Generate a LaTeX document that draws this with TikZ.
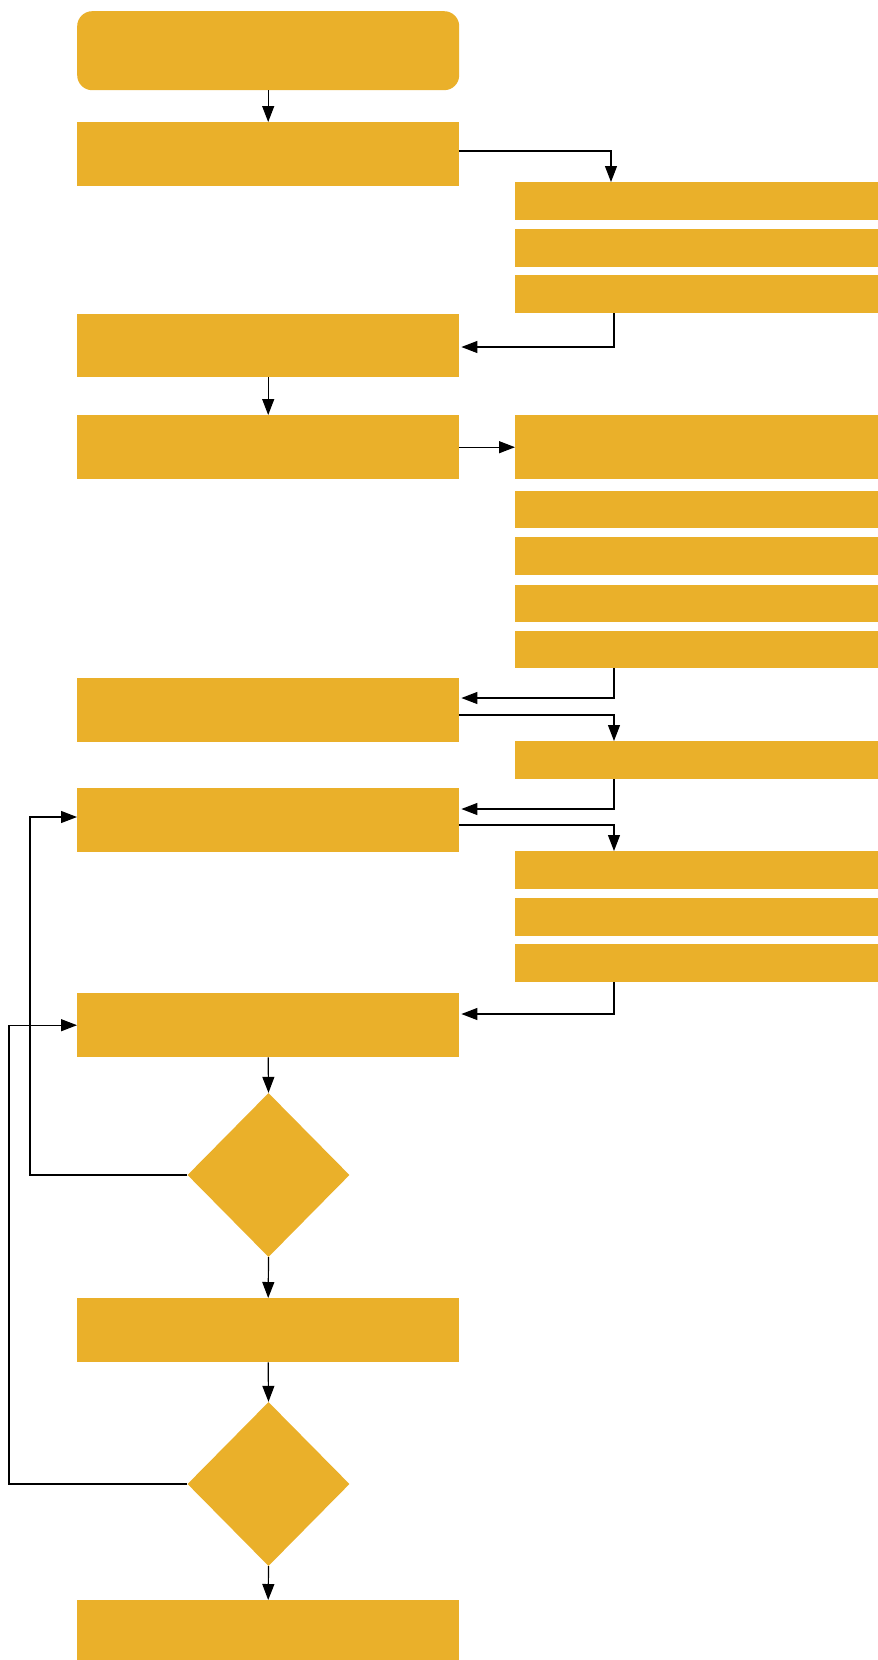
\documentclass[tikz,border=0pt]{standalone}
\usetikzlibrary{shapes.geometric,arrows.meta,calc}
\definecolor{gold}{RGB}{234,176,42}
\begin{document}
\begin{tikzpicture}[x=1pt,y=-1pt,
  box/.style={fill=gold, draw=none, inner sep=0pt, anchor=north west, minimum width=382pt, minimum height=64pt},
  rbox/.style={fill=gold, draw=none, inner sep=0pt, anchor=north west, minimum width=363pt, minimum height=38pt},
  dec/.style={diamond, fill=gold, draw=none, inner sep=0pt, minimum width=162pt, minimum height=164pt},
  conn/.style={draw=black, line width=1.2pt},
  arr/.style={conn, -{Triangle[length=16pt,width=12pt]}}]
\useasboundingbox (0,0) rectangle (878,1660);
% left column
\node[box, rounded corners=15pt, minimum height=79pt] (b1) at (77,11) {};
\node[box] (b2) at (77,122) {};
\node[box, minimum height=63pt] (b3) at (77,314) {};
\node[box] (b4) at (77,415) {};
\node[box] (b5) at (77,678) {};
\node[box] (b6) at (77,788) {};
\node[box] (b7) at (77,993) {};
\node[dec] (d1) at (268.5,1175) {};
\node[box] (b8) at (77,1298) {};
\node[dec] (d2) at (268.5,1484) {};
\node[box, minimum height=60pt] (b9) at (77,1600) {};
% right column
\node[rbox] (r1) at (515,182) {};
\node[rbox] (r2) at (515,229) {};
\node[rbox] (r3) at (515,275) {};
\node[rbox, minimum height=64pt] (rt) at (515,415) {};
\node[rbox, minimum height=37pt] (s1) at (515,491) {};
\node[rbox] (s2) at (515,537) {};
\node[rbox, minimum height=37pt] (s3) at (515,585) {};
\node[rbox, minimum height=37pt] (s4) at (515,631) {};
\node[rbox] (u1) at (515,741) {};
\node[rbox] (v1) at (515,851) {};
\node[rbox] (v2) at (515,898) {};
\node[rbox] (v3) at (515,944) {};
\coordinate (l1) at (30,0);
\coordinate (l2) at (9,0);
% connectors
\draw[arr] (b1.south) -- (b2.north);
\draw[arr] ([yshift=-29pt]b2.north east) -| ([xshift=96pt]r1.north west);
\draw[arr] ([xshift=99pt]r3.south west) |- ([xshift=2pt,yshift=-33pt]b3.north east);
\draw[arr] (b3.south) -- (b4.north);
\draw[arr] (b4.east) -- (rt.west);
\draw[arr] ([xshift=99pt]s4.south west) |- ([xshift=2pt,yshift=-20pt]b5.north east);
\draw[arr] ([yshift=-37pt]b5.north east) -| ([xshift=99pt]u1.north west);
\draw[arr] ([xshift=99pt]u1.south west) |- ([xshift=2pt,yshift=-21pt]b6.north east);
\draw[arr] ([yshift=-37pt]b6.north east) -| ([xshift=99pt]v1.north west);
\draw[arr] ([xshift=99pt]v3.south west) |- ([xshift=2pt,yshift=-21pt]b7.north east);
\draw[arr] (b7.south) -- (d1.north);
\draw[arr] (d1.south) -- (b8.north);
\draw[arr] (b8.south) -- (d2.north);
\draw[arr] (d2.south) -- (b9.north);
\draw[arr] (d1.west) -- (d1.west -| l1) |- ([yshift=-29pt]b6.north west);
\draw[arr] (d2.west) -- (d2.west -| l2) |- (b7.west);
\end{tikzpicture}
\end{document}
